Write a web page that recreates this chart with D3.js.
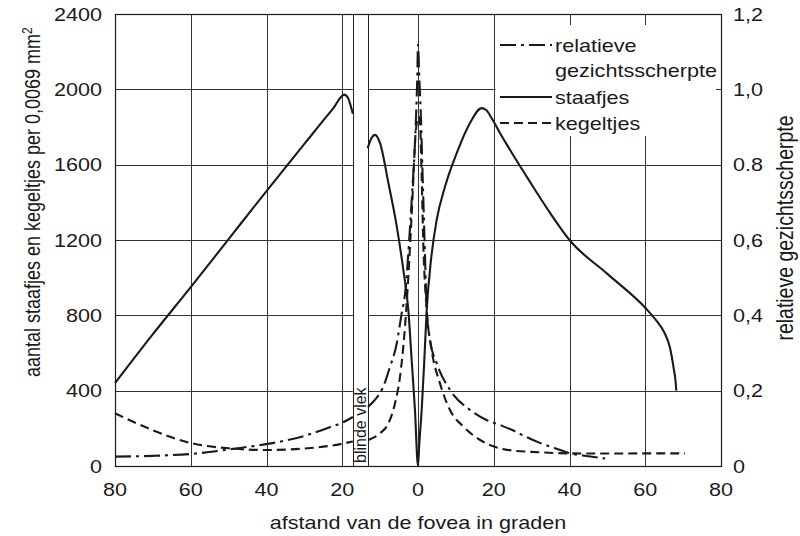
<!DOCTYPE html>
<html>
<head>
<meta charset="utf-8">
<script src="https://cdn.jsdelivr.net/npm/d3@7"></script>
<style>
  html, body { margin: 0; padding: 0; background: #fff; }
  svg { display: block; }
  text { font-family: "Liberation Sans", Arial, Helvetica, sans-serif; fill: #1a1a1a; }
</style>
</head>
<body>
<svg id="chart" width="800" height="536"></svg>
<script>
// ---------- data ----------
const xTickValues = [-80, -60, -40, -20, 0, 20, 40, 60, 80];
const xTickLabels = ["80", "60", "40", "20", "0", "20", "40", "60", "80"];
const yLeftTickValues = [0, 400, 800, 1200, 1600, 2000, 2400];
const yLeftTickLabels = ["0", "400", "800", "1200", "1600", "2000", "2400"];
const yRightTickValues = [0, 0.2, 0.4, 0.6, 0.8, 1.0, 1.2];
const yRightTickLabels = ["0", "0,2", "0,4", "0,6", "0.8", "1,0", "1,2"];
const blindSpot = [-17.2, -13.2];

// staafjes (rods) – left of blind spot and right of it
const rodsLeftX = [-80, -70, -60, -50, -40, -30, -25, -22, -20.5, -19.5, -18.5, -17.8, -17.2];
const rodsLeftY = [440, 700, 950, 1205, 1460, 1710, 1835, 1910, 1955, 1972, 1955, 1915, 1870];
const rodsRightX = [-13.3, -12.3, -11.35, -10, -7.8, -5.6, -3.87, -2.55, -1.67, -0.8, 0, 0.35, 0.97, 1.67, 2.3, 3.43, 4.93, 7.13, 10.2, 13.7, 16.8, 18, 19.5, 21.6, 25, 30, 35, 40, 50, 60, 63, 65, 66.5, 67.5, 68, 68.2];
const rodsRightY = [1687, 1740, 1758, 1713, 1501, 1271, 1041, 828, 563, 297, 0, 120, 297, 563, 828, 1094, 1306, 1483, 1660, 1820, 1900, 1890, 1845, 1770, 1655, 1495, 1340, 1200, 1020, 840, 770, 710, 630, 520, 450, 400];

// kegeltjes (cones)
const conesLeftX = [-80, -70, -60, -50, -40, -30, -22, -17.2];
const conesLeftY = [280, 190, 122, 94, 85, 93, 111, 130];
const conesRightX = [-13.1, -10, -7.8, -6.07, -4.75, -3.43, -2.3, -1.4, -0.7, -0.18, 0.18, 0.53, 0.97, 1.4, 2.3, 3.6, 5.8, 8.45, 12, 16.4, 21.6, 25, 30, 40, 50, 60, 70.5];
const conesRightY = [138, 174, 227, 333, 474, 740, 1094, 1448, 1749, 1837, 1855, 1820, 1536, 1182, 828, 616, 439, 297, 209, 138, 94, 82, 75, 67, 66, 67, 67];

// relatieve gezichtsscherpte (visual acuity, right axis)
const acuityLeftX = [-80, -70, -60, -47, -40, -30, -23, -20, -17.2];
const acuityLeftY = [0.025, 0.027, 0.032, 0.048, 0.058, 0.08, 0.104, 0.115, 0.13];
const acuityRightX = [-13.2, -11, -9.2, -7.5, -5.6, -4.4, -3.4, -2.1, -1.4, -0.8, -0.2, 0, 0.35, 0.7, 1.23, 1.76, 2.3, 3.17, 4.93, 8.45, 13.7, 18.1, 21.6, 25, 28, 32, 36, 40, 45, 49.4];
const acuityRightY = [0.157, 0.18, 0.21, 0.26, 0.326, 0.40, 0.459, 0.635, 0.75, 0.857, 1.03, 1.118, 1.03, 0.945, 0.768, 0.59, 0.414, 0.335, 0.273, 0.202, 0.149, 0.122, 0.109, 0.095, 0.08, 0.062, 0.048, 0.034, 0.026, 0.02];

// ---------- layout ----------
const svg = d3.select("#chart");
const W = 800, H = 536;
const plot = { left: 115, right: 721, top: 14, bottom: 466 };
const ink = "#1a1a1a";
const SX = 1.2; // horizontal stretch of lettering in the reference

svg.append("rect").attr("width", W).attr("height", H).attr("fill", "#fff");

const x = d3.scaleLinear().domain([-80, 80]).range([plot.left, plot.right]);
const yL = d3.scaleLinear().domain([0, 2400]).range([plot.bottom, plot.top]);
const yR = d3.scaleLinear().domain([0, 1.2]).range([plot.bottom, plot.top]);

// gridlines
const grid = svg.append("g").attr("stroke", "#333").attr("stroke-width", 1);
grid.selectAll("line.h").data(yLeftTickValues.slice(1, -1)).join("line")
  .attr("x1", plot.left).attr("x2", plot.right)
  .attr("y1", d => Math.round(yL(d)) + 0.5).attr("y2", d => Math.round(yL(d)) + 0.5);
grid.selectAll("line.v").data(xTickValues.slice(1, -1)).join("line")
  .attr("x1", d => Math.round(x(d)) + 0.5).attr("x2", d => Math.round(x(d)) + 0.5)
  .attr("y1", plot.top).attr("y2", plot.bottom);

// blind spot band
svg.append("rect")
  .attr("x", x(blindSpot[0])).attr("y", plot.top)
  .attr("width", x(blindSpot[1]) - x(blindSpot[0])).attr("height", plot.bottom - plot.top)
  .attr("fill", "#fff");
[blindSpot[0], blindSpot[1]].forEach(v => svg.append("line")
  .attr("x1", Math.round(x(v)) + 0.5).attr("x2", Math.round(x(v)) + 0.5)
  .attr("y1", plot.top).attr("y2", plot.bottom)
  .attr("stroke", "#222").attr("stroke-width", 1));
svg.append("text")
  .attr("transform", `translate(${x(blindSpot[1]) - 2},${plot.bottom - 3}) rotate(-90)`)
  .attr("font-size", 16).attr("text-anchor", "start")
  .text("blinde vlek");

// legend box (white, hides gridlines)
svg.append("rect").attr("x", x(20) + 2).attr("y", 25).attr("width", plot.right - 5 - (x(20) + 2)).attr("height", 111)
  .attr("fill", "#fff");

// frame
svg.append("rect")
  .attr("x", plot.left + 0.5).attr("y", plot.top + 0.5)
  .attr("width", plot.right - plot.left).attr("height", plot.bottom - plot.top)
  .attr("fill", "none").attr("stroke", ink).attr("stroke-width", 1.2);

// curves
const zip = (xs, ys) => xs.map((v, i) => [v, ys[i]]);
const lineL = d3.line().x(d => x(d[0])).y(d => yL(d[1])).curve(d3.curveMonotoneX);
const lineR = d3.line().x(d => x(d[0])).y(d => yR(d[1])).curve(d3.curveMonotoneX);

const styles = {
  rods: { dash: null },
  cones: { dash: "9,5" },
  acuity: { dash: "16,5,3,5" }
};

function draw(path, dash) {
  svg.append("path").attr("d", path).attr("fill", "none")
    .attr("stroke", ink).attr("stroke-width", 2.1)
    .attr("stroke-dasharray", dash).attr("stroke-linejoin", "round");
}
draw(lineL(zip(rodsLeftX, rodsLeftY)), styles.rods.dash);
draw(lineL(zip(rodsRightX, rodsRightY)), styles.rods.dash);
draw(lineL(zip(conesLeftX, conesLeftY)), styles.cones.dash);
draw(lineL(zip(conesRightX, conesRightY)), styles.cones.dash);
draw(lineR(zip(acuityLeftX, acuityLeftY)), styles.acuity.dash);
draw(lineR(zip(acuityRightX, acuityRightY)), styles.acuity.dash);

// stretched text helper
function stext(xp, yp, str, size, anchor, rot) {
  const t = svg.append("text")
    .attr("transform", `translate(${xp},${yp}) scale(${SX},1)` + (rot ? ` rotate(${rot})` : ""))
    .attr("font-size", size).attr("text-anchor", anchor || "start");
  t.text(str);
  return t;
}

// x tick labels
xTickValues.forEach((v, i) => stext(x(v), 496, xTickLabels[i], 18, "middle"));
// left tick labels
yLeftTickValues.forEach((v, i) => stext(102, yL(v) + 6.5, yLeftTickLabels[i], 18, "end"));
// right tick labels
yRightTickValues.forEach((v, i) => stext(733, yR(v) + 6.5, yRightTickLabels[i], 18, "start"));

// axis titles
stext(418, 529, "afstand van de fovea in graden", 18, "middle");
const lt = svg.append("text")
  .attr("transform", `translate(40,377) scale(${SX},1) rotate(-90)`)
  .attr("font-size", 18).attr("text-anchor", "start");
lt.append("tspan").text("aantal staafjes en kegeltjes per 0,0069 mm");
lt.append("tspan").attr("font-size", 12).attr("dy", -7).text("2");
stext(793, 228, "relatieve gezichtsscherpte", 19.5, "middle", -90);

// legend
const legendItems = [
  { y: 45, dash: styles.acuity.dash, lines: ["relatieve", "gezichtsscherpte"] },
  { y: 97, dash: styles.rods.dash, lines: ["staafjes"] },
  { y: 123, dash: styles.cones.dash, lines: ["kegeltjes"] }
];
legendItems.forEach(it => {
  svg.append("line").attr("x1", 500).attr("x2", 552).attr("y1", it.y).attr("y2", it.y)
    .attr("stroke", ink).attr("stroke-width", 2.1).attr("stroke-dasharray", it.dash);
  it.lines.forEach((s, j) => stext(555, it.y + 6.5 + j * 25, s, 18, "start"));
});
</script>
</body>
</html>
